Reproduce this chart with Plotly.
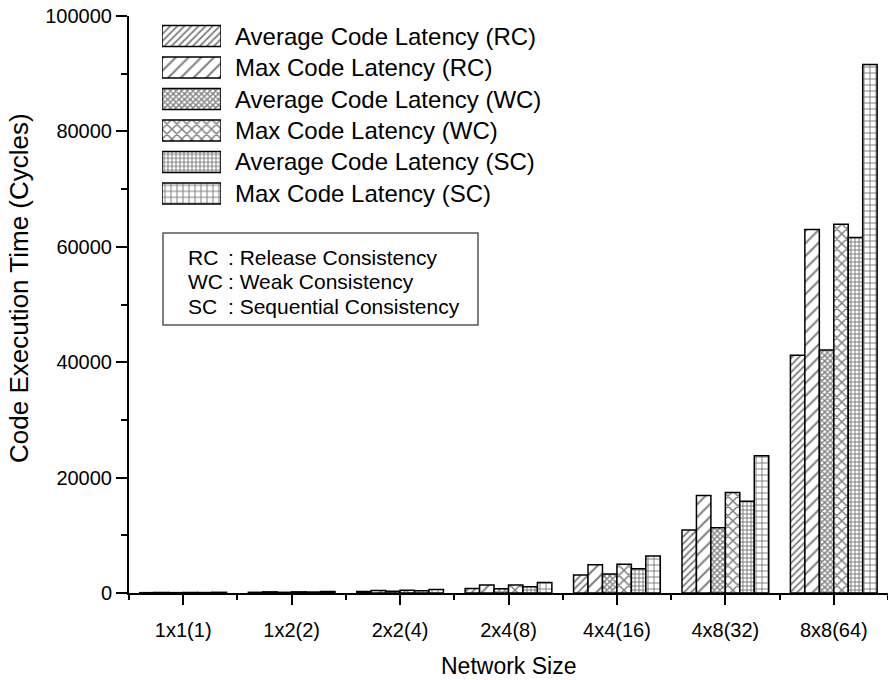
import plotly.graph_objects as go

categories = ["1x1(1)", "1x2(2)", "2x2(4)", "2x4(8)", "4x4(16)", "4x8(32)", "8x8(64)"]
series_names = [
    "Average Code Latency (RC)",
    "Max Code Latency (RC)",
    "Average Code Latency (WC)",
    "Max Code Latency (WC)",
    "Average Code Latency (SC)",
    "Max Code Latency (SC)",
]
avg_rc = [60, 120, 280, 800, 3100, 10900, 41200]
max_rc = [90, 200, 450, 1400, 4900, 16900, 63000]
avg_wc = [60, 120, 290, 750, 3300, 11300, 42100]
max_wc = [90, 200, 460, 1400, 5000, 17400, 63900]
avg_sc = [80, 170, 400, 1100, 4200, 15900, 61600]
max_sc = [120, 260, 620, 1800, 6400, 23800, 91600]
series_values = [avg_rc, max_rc, avg_wc, max_wc, avg_sc, max_sc]

y_ticks = [0, 20000, 40000, 60000, 80000, 100000]
note_keys = ["RC", "WC", "SC"]
note_texts = [": Release Consistency", ": Weak Consistency", ": Sequential Consistency"]

patterns = [
    dict(shape="/", size=5, solidity=0.35),
    dict(shape="/", size=9, solidity=0.22),
    dict(shape="x", size=4, solidity=0.6),
    dict(shape="x", size=7, solidity=0.38),
    dict(shape="+", size=4, solidity=0.45),
    dict(shape="+", size=6, solidity=0.3),
]

W, H = 888, 680
L, R, T, B = 129, 0, 16, 87
PW, PH = W - L - R, H - T - B
FONT = "Liberation Sans, Arial, sans-serif"


def px_x(x):
    return (x - L) / PW


def px_y(y):
    return (H - B - y) / PH


fig = go.Figure()
xs = list(range(len(categories)))
for name, vals, pat in zip(series_names, series_values, patterns):
    fig.add_trace(go.Bar(
        x=xs, y=vals, name=name, showlegend=False,
        marker=dict(color="white",
                    line=dict(color="black", width=1.5),
                    pattern=dict(fgcolor="black", bgcolor="white", **pat)),
    ))

# legend swatches drawn on an auxiliary axis
row_c0, row_step = 36, 31.5
for i, (name, pat) in enumerate(zip(series_names, patterns)):
    fig.add_trace(go.Bar(
        x=[1], y=[i], orientation="h", xaxis="x2", yaxis="y2", showlegend=False,
        width=0.667, offset=-0.333, hoverinfo="skip",
        marker=dict(color="white", line=dict(color="black", width=1.5),
                    pattern=dict(fgcolor="black", bgcolor="white", **pat)),
    ))
    fig.add_annotation(x=px_x(233), y=px_y(row_c0 + i * row_step), xref="paper", yref="paper",
                       text=name, showarrow=False, xanchor="left", yanchor="middle",
                       font=dict(family=FONT, size=24, color="black"))

y_top = row_c0 - row_step / 2
y_bot = row_c0 + 5 * row_step + row_step / 2

fig.update_layout(
    width=W, height=H, margin=dict(l=L, r=R, t=T, b=B),
    paper_bgcolor="white", plot_bgcolor="white",
    barmode="group", bargap=0.2, bargroupgap=0,
    font=dict(family=FONT, size=20, color="black"),
    showlegend=False,
    xaxis=dict(range=[-0.5, 6.5], tickmode="array", tickvals=xs, ticktext=categories,
               showline=True, linecolor="black", linewidth=2, showgrid=False, zeroline=False,
               ticks="outside", ticklen=10, tickwidth=2, tickcolor="black",
               ticklabelstandoff=8,
               minor=dict(tick0=0.5, dtick=1, ticks="outside", ticklen=5, tickwidth=1.5,
                          tickcolor="black", showgrid=False),
               tickfont=dict(size=20)),
    yaxis=dict(range=[0, 100000], tickmode="array", tickvals=y_ticks, tickformat="d",
               showline=True, linecolor="black", linewidth=2, showgrid=False, zeroline=False,
               ticks="outside", ticklen=11, tickwidth=2, tickcolor="black",
               minor=dict(tick0=0, dtick=10000, ticks="outside", ticklen=6, tickwidth=1.5,
                          tickcolor="black", showgrid=False),
               tickfont=dict(size=20)),
    xaxis2=dict(domain=[px_x(162), px_x(221)], range=[0, 1], anchor="y2",
                visible=False, fixedrange=True),
    yaxis2=dict(domain=[px_y(y_bot), px_y(y_top)], range=[5.5, -0.5], anchor="x2",
                visible=False, fixedrange=True),
)

# axis titles
fig.add_annotation(x=px_x(508), y=px_y(666), xref="paper", yref="paper",
                   text="Network Size", showarrow=False, xanchor="center", yanchor="middle",
                   font=dict(family=FONT, size=23))
fig.add_annotation(x=px_x(19), y=px_y(288), xref="paper", yref="paper",
                   text="Code Execution Time (Cycles)", showarrow=False, textangle=-90,
                   xanchor="center", yanchor="middle", font=dict(family=FONT, size=26))

# abbreviation note box
fig.add_shape(type="rect", xref="paper", yref="paper",
              x0=px_x(163), x1=px_x(478), y0=px_y(325), y1=px_y(233),
              line=dict(color="#555555", width=1.5), fillcolor="white")
for i, (k, t) in enumerate(zip(note_keys, note_texts)):
    yc = px_y(257 + i * 24.5)
    fig.add_annotation(x=px_x(186), y=yc, xref="paper", yref="paper", text=k,
                       showarrow=False, xanchor="left", yanchor="middle",
                       font=dict(family=FONT, size=21))
    fig.add_annotation(x=px_x(226), y=yc, xref="paper", yref="paper", text=t,
                       showarrow=False, xanchor="left", yanchor="middle",
                       font=dict(family=FONT, size=21))

fig.write_html("out.html")
